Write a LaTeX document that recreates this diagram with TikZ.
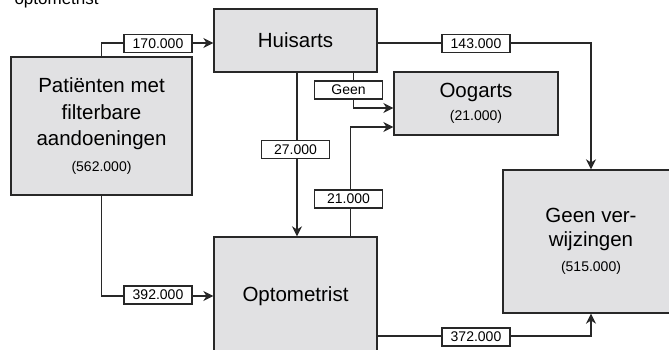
\documentclass[tikz,border=0pt]{standalone}
\usepackage{fontspec}
\setmainfont{Liberation Sans}
\usetikzlibrary{arrows.meta}
\definecolor{blokgrijs}{RGB}{225,225,227}
\definecolor{lijngrijs}{RGB}{40,40,40}
\newcommand{\aantal}[1]{{\fontsize{14}{17}\selectfont(#1)}}

\begin{document}
\begin{tikzpicture}[x=1pt,y=-1pt,
    blok/.style={draw=lijngrijs,line width=1.4pt,fill=blokgrijs,align=center,
      inner sep=0pt,font=\fontsize{20.5}{26.5}\selectfont},
    getal/.style={draw=lijngrijs,line width=1.2pt,fill=white,minimum width=68pt,
      minimum height=18pt,inner sep=0pt,font=\fontsize{14}{16}\selectfont},
    pijl/.style={draw=lijngrijs,line width=1.3pt,-{Stealth[length=10pt,width=10pt]}}]
  \useasboundingbox (0,0) rectangle (669,350);
  \clip (0,0) rectangle (669,350);
  \node[anchor=base west,font=\fontsize{17}{20}\selectfont] (kop) at (11,5) {optometrist};
  % blokken
  \node[blok,minimum width=181pt,minimum height=138pt] (pat) at (101.5,126)
    {Patiënten met\\filterbare\\aandoeningen\\[-1pt]\aantal{562.000}};
  \node[blok,minimum width=163pt,minimum height=63pt] (huis) at (295.5,40.5) {Huisarts};
  \node[blok,minimum width=164pt,minimum height=63pt] (oog) at (476,103.5)
    {Oogarts\\[-3pt]\aantal{21.000}};
  \node[blok,minimum width=163pt,minimum height=118pt] (opt) at (295.5,296) {Optometrist};
  \node[blok,minimum width=176pt,minimum height=143pt] (geen) at (591,241.5)
    {Geen ver-\\[-3pt]wijzingen\\[-1pt]\aantal{515.000}};
  % verwijzingen
  \begin{scope}[pijl]
    \draw (pat.north) |- ([yshift=-2.5pt]huis.west);
    \draw (pat.south) |- (opt.west);
    \draw ([yshift=-2.5pt]huis.east) -| (geen.north);
    \draw ([xshift=1.5pt]huis.south) -- ([xshift=1.5pt]opt.north);
    \draw ([xshift=58pt]huis.south) |- ([yshift=-4.5pt]oog.west);
    \draw ([xshift=55pt]opt.north) |- ([yshift=-23.5pt]oog.west);
    \draw ([yshift=-40pt]opt.east) -| (geen.south);
  \end{scope}
  % aantallen
  \node[getal] (l170) at (158,43.5) {170.000};
  \node[getal] (l392) at (158,295) {392.000};
  \node[getal] (l143) at (476,43.5) {143.000};
  \node[getal] (l27) at (295.5,149.5) {27.000};
  \node[getal] (lgeen) at (348.5,90) {Geen};
  \node[getal] (l21) at (348.5,199) {21.000};
  \node[getal] (l372) at (476,337) {372.000};
\end{tikzpicture}
\end{document}
